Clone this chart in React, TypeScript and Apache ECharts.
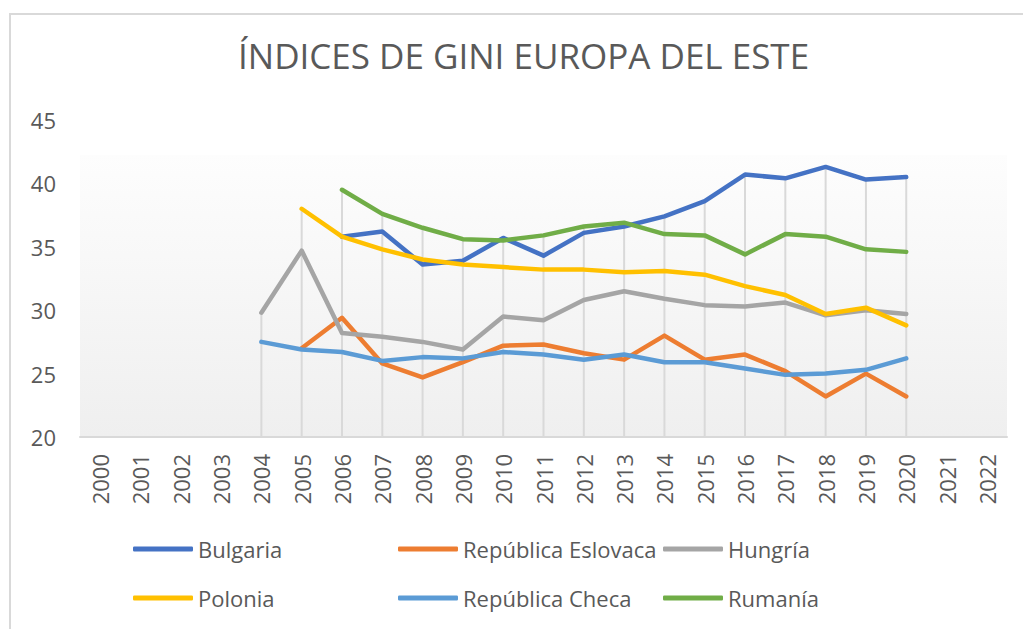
import React, { useEffect, useRef } from "react";
import * as echarts from "echarts";

const years: string[] = [
  "2000", "2001", "2002", "2003", "2004", "2005", "2006", "2007", "2008", "2009", "2010", "2011",
  "2012", "2013", "2014", "2015", "2016", "2017", "2018", "2019", "2020", "2021", "2022",
];

const N = null;
// 2000 ... 2022
const bulgaria = [N, N, N, N, N, N, 35.8, 36.2, 33.6, 33.9, 35.7, 34.3, 36.1, 36.6, 37.4, 38.6, 40.7, 40.4, 41.3, 40.3, 40.5, N, N];
const eslovaca = [N, N, N, N, N, 27.0, 29.4, 25.8, 24.7, 25.9, 27.2, 27.3, 26.6, 26.1, 28.0, 26.1, 26.5, 25.2, 23.2, 25.0, 23.2, N, N];
const hungria = [N, N, N, N, 29.8, 34.7, 28.2, 27.9, 27.5, 26.9, 29.5, 29.2, 30.8, 31.5, 30.9, 30.4, 30.3, 30.6, 29.6, 30.0, 29.7, N, N];
const polonia = [N, N, N, N, N, 38.0, 35.8, 34.8, 34.0, 33.6, 33.4, 33.2, 33.2, 33.0, 33.1, 32.8, 31.9, 31.2, 29.7, 30.2, 28.8, N, N];
const checa = [N, N, N, N, 27.5, 26.9, 26.7, 26.0, 26.3, 26.2, 26.7, 26.5, 26.1, 26.5, 25.9, 25.9, 25.4, 24.9, 25.0, 25.3, 26.2, N, N];
const rumania = [N, N, N, N, N, N, 39.5, 37.6, 36.5, 35.6, 35.5, 35.9, 36.6, 36.9, 36.0, 35.9, 34.4, 36.0, 35.8, 34.8, 34.6, N, N];

const seriesNames = ["Bulgaria", "República Eslovaca", "Hungría", "Polonia", "República Checa", "Rumanía"];
const seriesData = [bulgaria, eslovaca, hungria, polonia, checa, rumania];
const seriesColors = ["#4472C4", "#ED7D31", "#A5A5A5", "#FFC000", "#5B9BD5", "#70AD47"];

const yTicks = { min: 20, max: 45, interval: 5 };
const chartTitle = "ÍNDICES DE GINI EUROPA DEL ESTE";

const FONT = "'Open Sans', 'Noto Sans', sans-serif";
const TEXT = "#595959";

export default function App() {
  const ref = useRef<HTMLDivElement>(null);

  useEffect(() => {
    if (!ref.current) return;
    const chart = echarts.init(ref.current, undefined, { renderer: "svg" });

    const dropData: number[][] = [];
    years.forEach((_, i) => {
      const vals = seriesData.map((s) => s[i]).filter((v) => v != null) as number[];
      if (vals.length) dropData.push([i, Math.max(...vals)]);
    });

    const legendPos = [
      [128, 533], [393, 533], [658, 533],
      [128, 582], [393, 582], [658, 582],
    ];
    const legendOrder = ["Bulgaria", "República Eslovaca", "Hungría", "Polonia", "República Checa", "Rumanía"];

    const option: any = {
      animation: false,
      backgroundColor: "#ffffff",
      title: {
        text: chartTitle,
        left: 233,
        top: 33,
        textStyle: { fontFamily: FONT, fontSize: 35, fontWeight: "normal", color: TEXT },
      },
      graphic: [
        {
          type: "rect",
          z: -10,
          shape: { x: 80, y: 155, width: 927, height: 282 },
          style: {
            fill: new echarts.graphic.LinearGradient(0, 0, 0, 1, [
              { offset: 0, color: "#fdfdfd" },
              { offset: 1, color: "#efefef" },
            ]),
          },
        },
        {
          type: "rect",
          z: -10,
          shape: { x: 10, y: 14, width: 1100, height: 700 },
          style: { fill: "none", stroke: "#d9d9d9", lineWidth: 2 },
        },
      ],
      legend: legendOrder.map((name, k) => ({
        data: [name],
        left: legendPos[k][0],
        top: legendPos[k][1],
        icon: "roundRect",
        itemWidth: 60,
        itemHeight: 5,
        selectedMode: false,
        textStyle: { fontFamily: FONT, fontSize: 22, color: TEXT },
      })),
      grid: { left: 80, right: 16, top: 120, bottom: 192, containLabel: false },
      xAxis: {
        type: "category",
        data: years,
        boundaryGap: true,
        axisLine: { lineStyle: { color: "#d9d9d9", width: 2 } },
        axisTick: { show: false },
        splitLine: { show: false },
        axisLabel: {
          rotate: 90,
          interval: 0,
          margin: 17,
          fontFamily: FONT,
          fontSize: 22,
          color: TEXT,
        },
      },
      yAxis: {
        type: "value",
        min: yTicks.min,
        max: yTicks.max,
        interval: yTicks.interval,
        axisLine: { show: false },
        axisTick: { show: false },
        splitLine: { show: false },
        axisLabel: { margin: 24, fontFamily: FONT, fontSize: 22, color: TEXT },
      },
      series: [
        {
          type: "custom",
          name: "drop",
          z: 1,
          silent: true,
          data: dropData,
          encode: { x: 0, y: 1 },
          renderItem: (params: any, api: any) => {
            const top = api.coord([api.value(0), api.value(1)]);
            const bottom = api.coord([api.value(0), yTicks.min]);
            return {
              type: "line",
              shape: { x1: top[0], y1: top[1], x2: bottom[0], y2: bottom[1] },
              style: { stroke: "#d9d9d9", lineWidth: 2 },
            };
          },
        },
        ...seriesNames.map((name, i) => ({
          type: "line",
          name,
          data: seriesData[i],
          color: seriesColors[i],
          showSymbol: false,
          symbol: "none",
          connectNulls: false,
          z: 3,
          lineStyle: { width: 4.5, color: seriesColors[i], cap: "round", join: "round" },
          emphasis: { disabled: true },
        })),
      ],
    };

    chart.setOption(option);
    return () => chart.dispose();
  }, []);

  return (
    <div
      ref={ref}
      style={{ position: "fixed", left: 0, top: 0, width: 1023, height: 629 }}
    />
  );
}
